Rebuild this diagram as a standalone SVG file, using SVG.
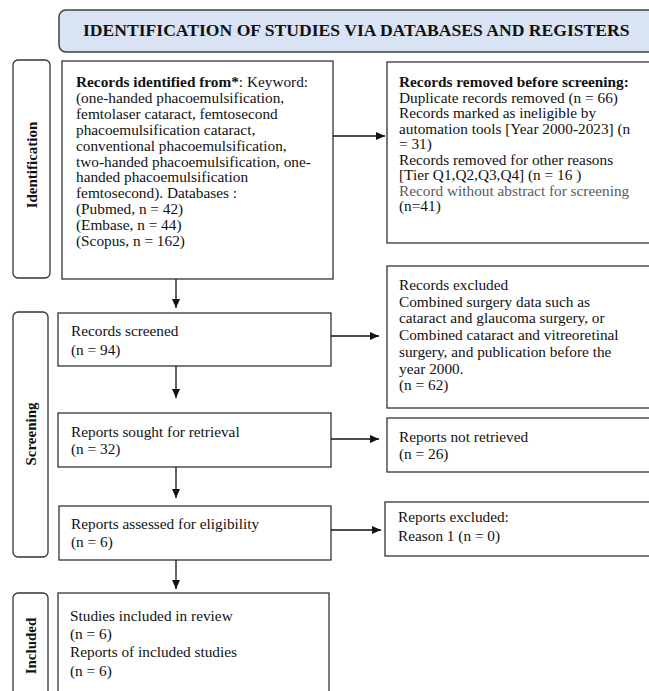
<svg xmlns="http://www.w3.org/2000/svg" width="649" height="691" viewBox="0 0 649 691">
<defs>
<marker id="ah" markerWidth="9" markerHeight="8" refX="9" refY="4" orient="auto" markerUnits="userSpaceOnUse">
<path d="M0,0 L9,4 L0,8 z" fill="#111"/>
</marker>
<style>
.box{fill:#fff;stroke:#333;stroke-width:1.3}
.side{fill:#fff;stroke:#333;stroke-width:1.3}
.t{font-family:"Liberation Serif","Times New Roman",serif;font-size:15.3px;fill:#111}
.b{font-weight:bold}
.lbl{font-family:"Liberation Serif","Times New Roman",serif;font-size:15px;font-weight:bold;fill:#111;text-anchor:middle}
.g{fill:#5a5a5a}
.c{stroke:#111;stroke-width:1.3;fill:none;marker-end:url(#ah)}
</style>
</defs>
<rect width="649" height="691" fill="#fff"/>

<g id="title">
<rect x="59" y="10" width="610" height="42" rx="7" fill="#dae3f3" stroke="#404040" stroke-width="1.5"/>
<text x="83" y="36" font-family="Liberation Serif, Times New Roman, serif" font-size="17.6" font-weight="bold" fill="#111">IDENTIFICATION OF STUDIES VIA DATABASES AND REGISTERS</text>
</g>

<g id="label-identification">
<rect class="side" x="13" y="60" width="37" height="218" rx="5"/>
<text class="lbl" transform="translate(37,165) rotate(-90)">Identification</text>
</g>
<g id="label-screening">
<rect class="side" x="13" y="312" width="35" height="245" rx="5"/>
<text class="lbl" transform="translate(36,434) rotate(-90)">Screening</text>
</g>
<g id="label-included">
<rect class="side" x="13" y="593" width="35" height="120" rx="5"/>
<text class="lbl" transform="translate(36,646) rotate(-90)">Included</text>
</g>

<g id="records-identified">
<rect class="box" x="62" y="61" width="271" height="218"/>
<text class="t" x="76" y="87"><tspan class="b">Records identified from*</tspan>: Keyword:</text>
<text class="t" x="76" y="103">(one-handed phacoemulsification,</text>
<text class="t" x="76" y="118.8">femtolaser cataract, femtosecond</text>
<text class="t" x="76" y="134.7">phacoemulsification cataract,</text>
<text class="t" x="76" y="150.6">conventional phacoemulsification,</text>
<text class="t" x="76" y="166.5">two-handed phacoemulsification, one-</text>
<text class="t" x="76" y="182.4">handed phacoemulsification</text>
<text class="t" x="76" y="198.3">femtosecond). Databases :</text>
<text class="t" x="76" y="214.2">(Pubmed, n = 42)</text>
<text class="t" x="76" y="230.1">(Embase, n = 44)</text>
<text class="t" x="76" y="246">(Scopus, n = 162)</text>
</g>

<g id="records-removed">
<rect class="box" x="387" y="62" width="280" height="181"/>
<text class="t b" x="399" y="87">Records removed before screening:</text>
<text class="t" x="399" y="102.5">Duplicate records removed (n = 66)</text>
<text class="t" x="399" y="118">Records marked as ineligible by</text>
<text class="t" x="399" y="133.5">automation tools [Year 2000-2023] (n</text>
<text class="t" x="399" y="149">= 31)</text>
<text class="t" x="399" y="164.5">Records removed for other reasons</text>
<text class="t" x="399" y="180">[Tier Q1,Q2,Q3,Q4] (n = 16 )</text>
<text class="t g" x="399" y="195.5">Record without abstract for screening</text>
<text class="t" x="399" y="211">(n=41)</text>
</g>

<g id="records-screened">
<rect class="box" x="58" y="313" width="273" height="53"/>
<text class="t" x="71" y="336">Records screened</text>
<text class="t" x="71" y="355">(n = 94)</text>
</g>

<g id="records-excluded">
<rect class="box" x="387" y="266" width="280" height="142"/>
<text class="t" x="399" y="290">Records excluded</text>
<text class="t" x="399" y="306.7">Combined surgery data such as</text>
<text class="t" x="399" y="323.4">cataract and glaucoma surgery, or</text>
<text class="t" x="399" y="340.1">Combined cataract and vitreoretinal</text>
<text class="t" x="399" y="356.8">surgery, and publication before the</text>
<text class="t" x="399" y="373.5">year 2000.</text>
<text class="t" x="399" y="390.2">(n = 62)</text>
</g>

<g id="reports-sought">
<rect class="box" x="58" y="413" width="273" height="54"/>
<text class="t" x="71" y="437">Reports sought for retrieval</text>
<text class="t" x="71" y="454">(n = 32)</text>
</g>

<g id="reports-not-retrieved">
<rect class="box" x="387" y="418" width="280" height="54"/>
<text class="t" x="399" y="442">Reports not retrieved</text>
<text class="t" x="399" y="459">(n = 26)</text>
</g>

<g id="reports-assessed">
<rect class="box" x="59" y="506" width="272" height="54"/>
<text class="t" x="71" y="529">Reports assessed for eligibility</text>
<text class="t" x="71" y="547">(n = 6)</text>
</g>

<g id="reports-excluded">
<rect class="box" x="385" y="502" width="280" height="54"/>
<text class="t" x="398" y="522">Reports excluded:</text>
<text class="t" x="398" y="541">Reason 1 (n = 0)</text>
</g>

<g id="included">
<rect class="box" x="58" y="593" width="271" height="120"/>
<text class="t" x="70" y="621">Studies included in review</text>
<text class="t" x="70" y="639">(n = 6)</text>
<text class="t" x="70" y="657">Reports of included studies</text>
<text class="t" x="70" y="676">(n = 6)</text>
</g>

<g id="connectors">
<line class="c" x1="333" y1="136" x2="385" y2="136"/>
<line class="c" x1="176" y1="279" x2="176" y2="308"/>
<line class="c" x1="331" y1="336" x2="379" y2="336"/>
<line class="c" x1="176" y1="366" x2="176" y2="398"/>
<line class="c" x1="331" y1="439" x2="379" y2="439"/>
<line class="c" x1="176" y1="467" x2="176" y2="498"/>
<line class="c" x1="331" y1="530" x2="381" y2="530"/>
<line class="c" x1="176" y1="560" x2="176" y2="589"/>
</g>
</svg>
